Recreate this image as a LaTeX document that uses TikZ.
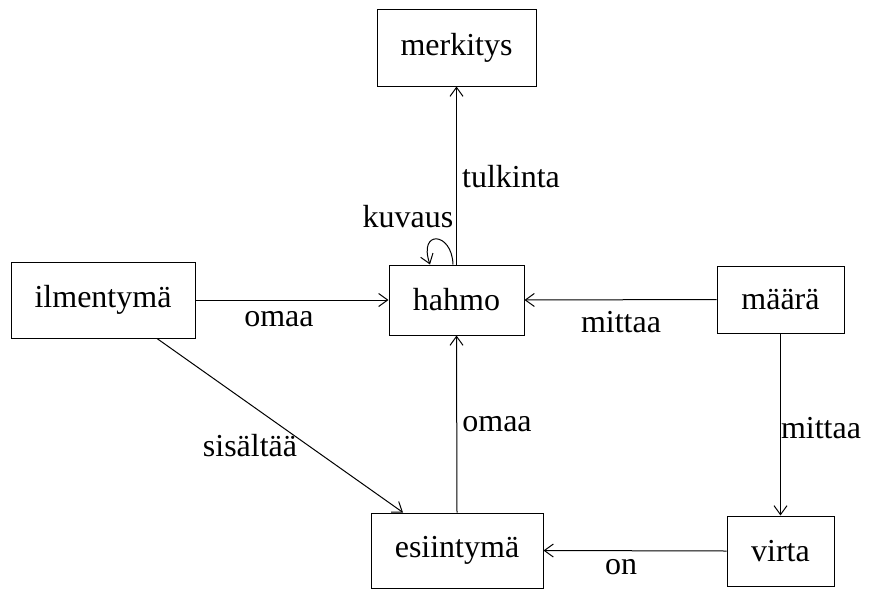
\documentclass[tikz,border=0pt]{standalone}
\usepackage{fontspec}
\setmainfont{Liberation Serif}
\usetikzlibrary{arrows.meta}
\begin{document}
\begin{tikzpicture}[x=1pt,y=-1pt,
  box/.style={draw, line width=1pt, inner sep=0pt, font=\fontsize{32}{38}\selectfont},
  lbl/.style={inner sep=0pt, font=\fontsize{32}{38}\selectfont},
  link/.style={line width=1pt, -{Straight Barb[length=9pt,width=13pt,line width=1pt]}}]
\useasboundingbox (0,0) rectangle (871,590);
\node[box, minimum width=159pt, minimum height=77pt] (merk) at (456.5,47.5) {merkitys};
\node[box, minimum width=135pt, minimum height=70pt] (hahmo) at (456.5,300) {hahmo};
\node[box, minimum width=184pt, minimum height=76pt] (ilm) at (103,300) {ilmentymä};
\node[box, minimum width=127pt, minimum height=67pt] (maara) at (780.5,299.5) {määrä};
\node[box, minimum width=172pt, minimum height=75pt] (esi) at (457,550.5) {esiintymä};
\node[box, minimum width=107pt, minimum height=70pt] (virta) at (780.5,551) {virta};

\draw[link] (hahmo.north) -- (merk.south);
\draw[link] (ilm.east) -- (hahmo.west);
\draw[link] (maara.west) -- (hahmo.east);
\draw[link] (esi.north) -- (hahmo.south);
\draw[link] ([xshift=54pt]ilm.south) -- ([xshift=-54pt]esi.north);
\draw[link] (maara.south) -- (virta.north);
\draw[link] (virta.west) -- (esi.east);
\draw[link] ([xshift=-3.5pt]hahmo.north) .. controls +(-1,-33) and +(-12,-35) .. ([xshift=-26.5pt]hahmo.north);

\node[lbl] (l1) at (511,177) {tulkinta};
\node[lbl] (l2) at (408,217) {kuvaus};
\node[lbl] (l3) at (279,319) {omaa};
\node[lbl] (l4) at (621,322) {mittaa};
\node[lbl] (l5) at (497,424) {omaa};
\node[lbl] (l6) at (250,446) {sisältää};
\node[lbl] (l7) at (821,428) {mittaa};
\node[lbl] (l8) at (621,567) {on};
\end{tikzpicture}
\end{document}
